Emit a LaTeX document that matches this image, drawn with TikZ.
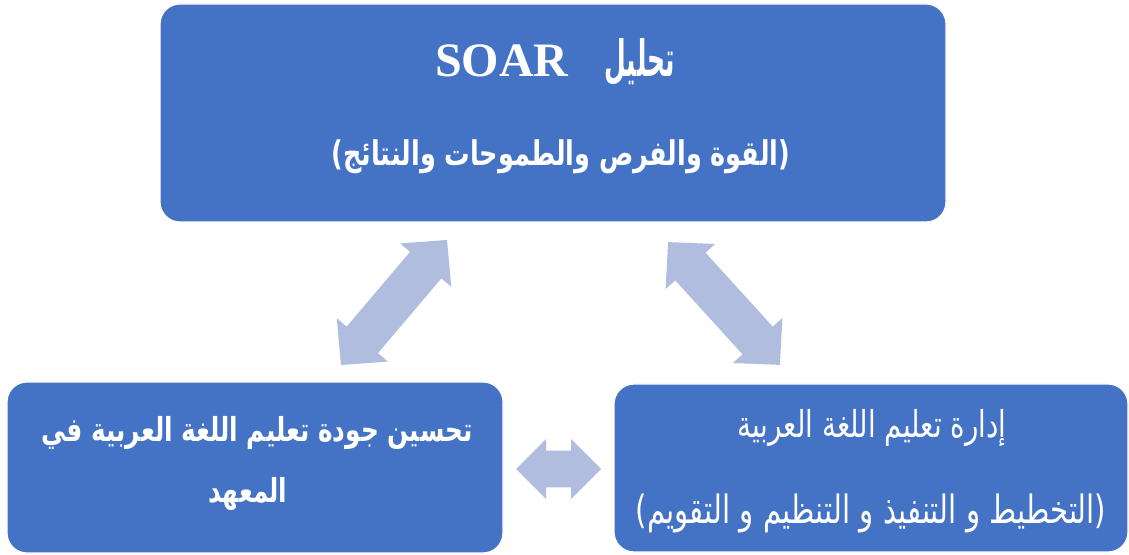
\documentclass[tikz,border=0pt]{standalone}
\usepackage{graphicx}
\usepackage{fontspec}
\setmainfont{Liberation Serif}
\newfontfamily\arabicfont[Script=Arabic]{DejaVu Sans}
\TeXXeTstate=1
\definecolor{boxblue}{RGB}{68,114,196}
\definecolor{arrowblue}{RGB}{176,189,222}
\tikzset{
  box/.style={draw=white, line width=0.6pt, fill=boxblue, rounded corners=10pt, inner sep=0pt},
  artext/.style={text=white, inner sep=0pt, anchor=center},
  arrowfill/.style={fill=arrowblue, draw=none}
}
\newcommand{\narrow}[1]{\scalebox{0.75}[1]{#1}}
% #1 name, #2 cx, #3 cy, #4 angle, #5 length, #6 shaft half, #7 head half, #8 head length
\newcommand{\blockarrow}[8]{%
  \begin{scope}[shift={(#2,#3)}, rotate=#4]
    \coordinate (#1) at (0,0);
    \fill[arrowfill] ({-#5/2},0) -- ({-#5/2+#8},#7) -- ({-#5/2+#8},#6) -- ({#5/2-#8},#6)
      -- ({#5/2-#8},#7) -- ({#5/2},0) -- ({#5/2-#8},-#7) -- ({#5/2-#8},-#6)
      -- ({-#5/2+#8},-#6) -- ({-#5/2+#8},-#7) -- cycle;
  \end{scope}}
\begin{document}
\begin{tikzpicture}[x=0.5pt,y=-0.5pt]
  \useasboundingbox[fill=white] (0,0) rectangle (1129,555);
  % boxes
  \node[box, minimum width=393pt, minimum height=109pt] (soar) at (553,113) {};
  \node[box, minimum width=248pt, minimum height=85.5pt] (quality) at (255,467.5) {};
  \node[box, minimum width=257pt, minimum height=84pt] (manage) at (871,468) {};
  % texts
  \node[artext, font=\fontsize{24}{28}\selectfont, anchor=base] (soar-l1) at (555,77)
    {{\rmfamily\bfseries SOAR}\hspace{18pt}\scalebox{0.5}[1]{\fontsize{25}{28}\selectfont\arabicfont\bfseries\beginR تحليل\endR}};
  \node[artext, font=\fontsize{17}{20}\selectfont] (soar-l2) at (561,157)
    {\narrow{\arabicfont\bfseries\beginR (القوة والفرص والطموحات والنتائج)\endR}};
  \node[artext, font=\fontsize{16.5}{20}\selectfont] (quality-l1) at (257,433)
    {\narrow{\arabicfont\bfseries\beginR تحسين جودة تعليم اللغة العربية في\endR}};
  \node[artext, font=\fontsize{16.5}{20}\selectfont] (quality-l2) at (248,494)
    {\narrow{\arabicfont\bfseries\beginR المعهد\endR}};
  \node[artext, font=\fontsize{18.5}{22}\selectfont] (manage-l1) at (872,428)
    {\narrow{\arabicfont\beginR إدارة تعليم اللغة العربية\endR}};
  \node[artext, font=\fontsize{19.5}{23}\selectfont] (manage-l2) at (871,513)
    {\narrow{\arabicfont\beginR (التخطيط و التنفيذ و التنظيم و التقويم)\endR}};
  % block arrows
  \blockarrow{a-left}{394}{302.5}{49.7}{164}{20.5}{33.5}{33}
  \blockarrow{a-right}{724}{303.5}{-47.7}{166}{20.5}{33.5}{33}
  \blockarrow{a-bottom}{558.5}{469}{0}{85}{18.3}{30}{30}
\end{tikzpicture}
\end{document}
